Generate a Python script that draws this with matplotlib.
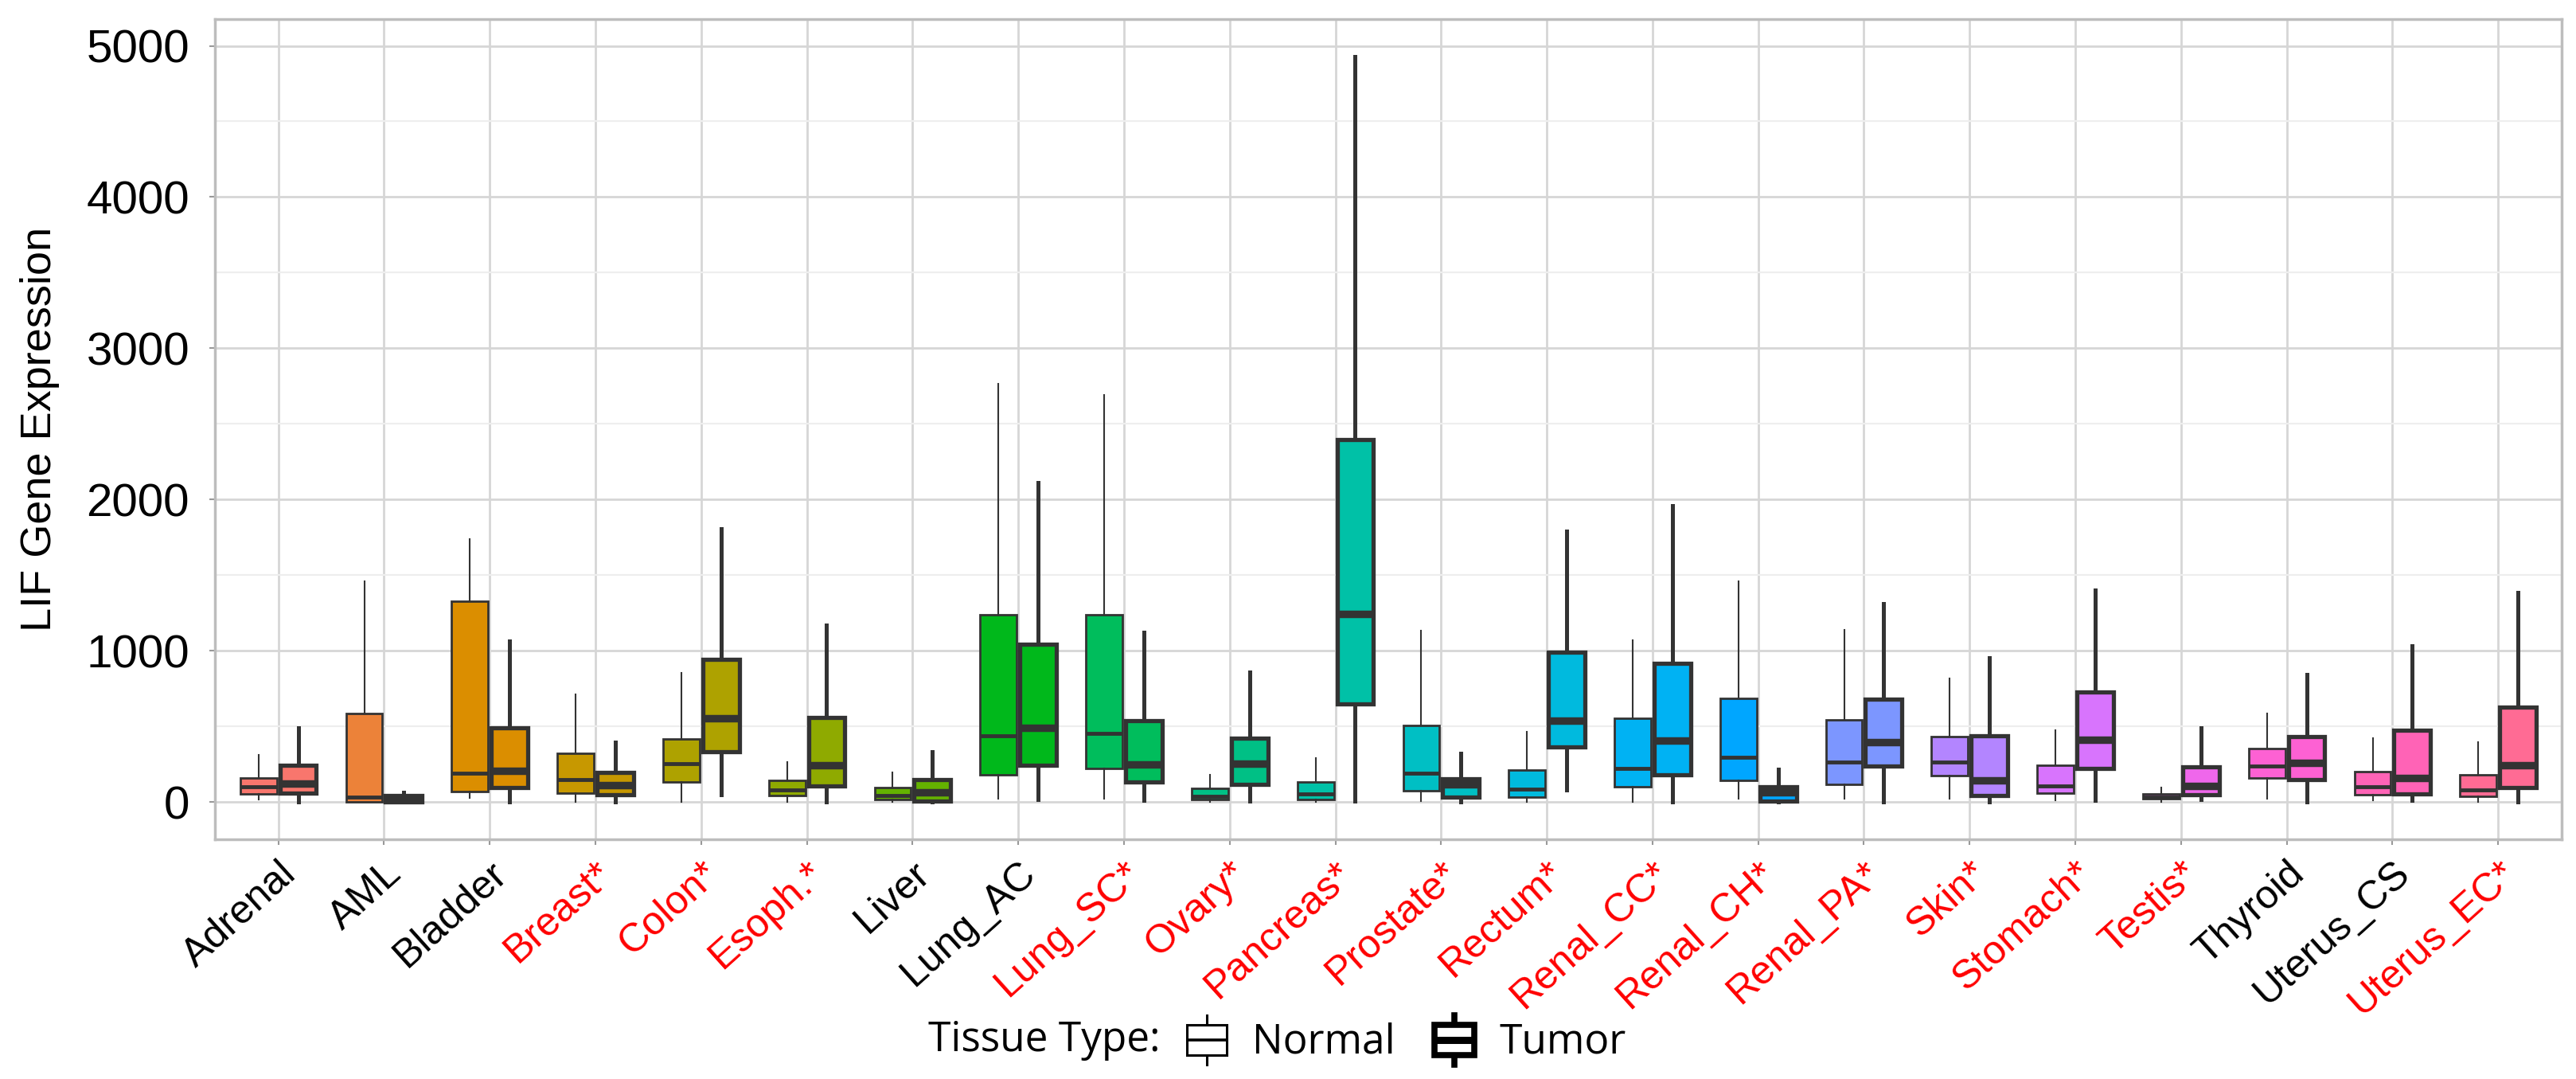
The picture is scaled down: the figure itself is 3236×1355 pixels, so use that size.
import numpy as np
import matplotlib
matplotlib.use('Agg')
from matplotlib import pyplot as plt
from matplotlib.patches import Rectangle, Patch
from matplotlib.lines import Line2D
from matplotlib.legend_handler import HandlerBase
from matplotlib.ticker import MultipleLocator

# Tissue categories (red = marked with *)
tissues = ['Adrenal', 'AML', 'Bladder', 'Breast*', 'Colon*', 'Esoph.*', 'Liver',
           'Lung_AC', 'Lung_SC*', 'Ovary*', 'Pancreas*', 'Prostate*', 'Rectum*',
           'Renal_CC*', 'Renal_CH*', 'Renal_PA*', 'Skin*', 'Stomach*', 'Testis*',
           'Thyroid', 'Uterus_CS', 'Uterus_EC*']

# Normal tissue box stats
normal_lo = [19, 0, 28, 0, 0, 0, 0, 24, 24, 0, 0, 5, 0, 0, 24, 24, 24, 10, 0, 24, 13, 0]
normal_q1 = [53, 0, 71, 60, 132, 43, 19, 182, 222, 19, 19, 75, 32, 103, 145, 117, 173, 60, 23, 160, 47, 38]
normal_med = [103, 32, 192, 147, 254, 79, 41, 436, 455, 38, 56, 192, 88, 222, 295, 263, 267, 107, 34, 239, 100, 81]
normal_q3 = [160, 588, 1329, 323, 419, 141, 94, 1241, 1237, 90, 132, 508, 212, 555, 686, 541, 432, 241, 53, 352, 201, 182]
normal_hi = [314, 1462, 1739, 711, 852, 263, 194, 2763, 2694, 182, 291, 1132, 464, 1068, 1462, 1137, 818, 474, 94, 586, 423, 395]

# Tumor tissue box stats
tumor_lo = [0, 0, 0, 0, 47, 0, 0, 19, 13, 5, 6, 0, 81, 0, 0, 0, 0, 13, 19, 0, 13, 0]
tumor_q1 = [60, 0, 94, 47, 333, 107, 6, 241, 132, 118, 648, 32, 367, 182, 6, 239, 41, 222, 47, 147, 53, 94]
tumor_med = [122, 19, 207, 113, 555, 244, 66, 492, 248, 254, 1246, 117, 536, 408, 66, 398, 141, 414, 107, 259, 160, 244]
tumor_q3 = [244, 41, 492, 197, 944, 558, 150, 1043, 539, 423, 2397, 156, 992, 917, 103, 680, 436, 729, 231, 432, 476, 626]
tumor_hi = [492, 66, 1066, 395, 1805, 1169, 333, 2111, 1122, 859, 4930, 320, 1791, 1959, 216, 1312, 955, 1400, 492, 842, 1032, 1385]


def hue_pal(n, c=100, l=65):
    # ggplot2-style hue palette (hcl polarLuv -> sRGB)
    hues = np.linspace(15, 375, n + 1)[:-1]
    Xn, Yn, Zn = 95.047, 100.0, 108.883
    den = Xn + 15 * Yn + 3 * Zn
    un, vn = 4 * Xn / den, 9 * Yn / den
    M = np.array([[3.240479, -1.537150, -0.498535],
                  [-0.969256, 1.875992, 0.041556],
                  [0.055648, -0.204043, 1.057311]])
    cols = []
    for h in hues:
        hr = np.deg2rad(h)
        u, v = c * np.cos(hr), c * np.sin(hr)
        Y = Yn * ((l + 16) / 116) ** 3
        up = u / (13 * l) + un
        vp = v / (13 * l) + vn
        X = 9 * Y * up / (4 * vp)
        Z = -X / 3 - 5 * Y + 3 * Y / vp
        rgb = M @ (np.array([X, Y, Z]) / 100)
        rgb = np.where(rgb <= 0.0031308, 12.92 * rgb, 1.055 * np.abs(rgb) ** (1 / 2.4) - 0.055)
        cols.append(tuple(np.clip(rgb, 0, 1)))
    return cols


colors = hue_pal(len(tissues))
edge = '#333333'


def make_stats(lo, q1, med, q3, hi):
    return [dict(whislo=a, q1=b, med=c, q3=d, whishi=e, fliers=[])
            for a, b, c, d, e in zip(lo, q1, med, q3, hi)]


plt.rcParams['font.family'] = ['Liberation Sans', 'DejaVu Sans']

fig = plt.figure(figsize=(32.37, 13.55), dpi=100)
ax = fig.add_axes([0.0834, 0.2221, 0.9107, 0.7602])

x = np.arange(len(tissues))
dodge = 0.1875
bw = 0.345

bn = ax.bxp(make_stats(normal_lo, normal_q1, normal_med, normal_q3, normal_hi),
            positions=x - dodge, widths=bw, patch_artist=True, showfliers=False,
            showcaps=False, manage_ticks=False,
            boxprops=dict(edgecolor=edge, linewidth=2.0),
            medianprops=dict(color=edge, linewidth=3.5, solid_capstyle='butt'),
            whiskerprops=dict(color=edge, linewidth=1.5))
bt = ax.bxp(make_stats(tumor_lo, tumor_q1, tumor_med, tumor_q3, tumor_hi),
            positions=x + dodge, widths=bw, patch_artist=True, showfliers=False,
            showcaps=False, manage_ticks=False,
            boxprops=dict(edgecolor=edge, linewidth=3.8),
            medianprops=dict(color=edge, linewidth=6.8, solid_capstyle='butt'),
            whiskerprops=dict(color=edge, linewidth=3.6))
for i, c in enumerate(colors):
    bn['boxes'][i].set_facecolor(c)
    bt['boxes'][i].set_facecolor(c)

# axes limits like ggplot expansion
ymax = max(max(normal_hi), max(tumor_hi))
ymin = min(min(normal_lo), min(tumor_lo))
rng = ymax - ymin
ax.set_ylim(ymin - 0.05 * rng, ymax + 0.05 * rng)
ax.set_xlim(-0.6, len(tissues) - 1 + 0.6)

ax.set_yticks(np.arange(0, 5001, 1000))
ax.yaxis.set_minor_locator(MultipleLocator(500))
ax.set_xticks(x)
ax.set_xticklabels(tissues, rotation=42, ha='right', va='top', rotation_mode='anchor')
for lab in ax.get_xticklabels():
    lab.set_color('red' if lab.get_text().endswith('*') else 'black')

ax.set_axisbelow(True)
ax.grid(which='major', axis='both', color='#D6D6D6', linewidth=2.0)
ax.grid(which='minor', axis='y', color='#EEEEEE', linewidth=1.6)
ax.tick_params(axis='y', which='major', labelsize=42, length=5, width=1.5, color='#999999', pad=18)
ax.tick_params(axis='x', which='major', labelsize=36, length=5, width=1.5, color='#999999', pad=9)
ax.tick_params(which='minor', length=0)
for s in ax.spines.values():
    s.set_color('#BDBDBD')
    s.set_linewidth(2.5)

ax.set_ylabel('LIF Gene Expression', fontsize=39, labelpad=24)


# legend keys drawn as small boxplot glyphs
class BoxKey(HandlerBase):
    def __init__(self, lw, mlw):
        super().__init__()
        self.lw = lw
        self.mlw = mlw

    def create_artists(self, legend, orig_handle, xdescent, ydescent, width, height, fontsize, trans):
        x0, y0 = -xdescent, -ydescent
        cx = x0 + width / 2
        r = Rectangle((x0 + 0.06 * width, y0 + 0.2 * height), 0.88 * width, 0.6 * height,
                      facecolor='white', edgecolor='black', linewidth=self.lw, transform=trans)
        wl = Line2D([cx, cx], [y0, y0 + 0.2 * height], color='black', lw=self.lw, transform=trans)
        wh = Line2D([cx, cx], [y0 + 0.8 * height, y0 + height], color='black', lw=self.lw, transform=trans)
        md = Line2D([x0 + 0.06 * width, x0 + 0.94 * width], [y0 + 0.5 * height] * 2,
                    color='black', lw=self.mlw, transform=trans, solid_capstyle='butt')
        return [wl, wh, r, md]


h_normal = Patch(label='Normal')
h_tumor = Patch(label='Tumor')
leg_y = 1 - 1306 / 1355
fig.legend(handles=[h_normal, h_tumor], labels=['Normal', 'Tumor'],
           handler_map={h_normal: BoxKey(2.2, 2.6), h_tumor: BoxKey(5.5, 6.5)},
           loc='center left', bbox_to_anchor=(1488 / 3237, leg_y), ncol=2, frameon=False,
           borderpad=0, borderaxespad=0, handlelength=1.1, handleheight=1.5,
           handletextpad=0.55, columnspacing=0.9,
           prop={'family': ['Open Sans', 'DejaVu Sans'], 'size': 37})
fig.text(1458 / 3237, leg_y, 'Tissue Type:', ha='right', va='center', fontsize=37,
         family=['Open Sans', 'DejaVu Sans'])

fig.savefig('out.png', dpi=100)
